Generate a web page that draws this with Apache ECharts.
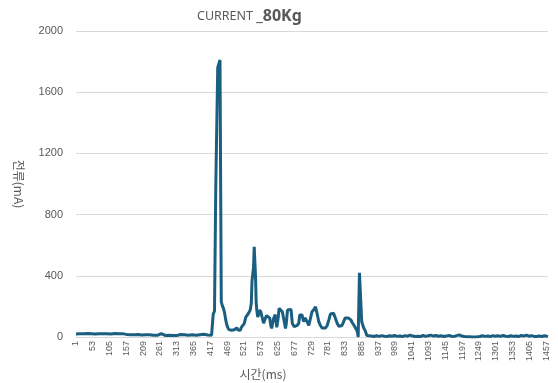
<!DOCTYPE html>
<html>
<head>
<meta charset="utf-8">
<script src="https://cdn.jsdelivr.net/npm/echarts@6/dist/echarts.min.js"></script>
<style>
html,body{margin:0;padding:0;background:#fff;}
#chart{width:558px;height:383px;}
</style>
</head>
<body>
<div id="chart"></div>
<script>
// time sample count (ms index), category labels 1..1463
const sampleCount = 1463;
const sampleIdx = [
1,7,13,19,25,31,37,43,49,55,61,67,73,79,85,91,97,103,109,115,121,127,133,139,145,151,157,163,169,175,181,187,193,199,205,211,217,223,229,235,241,247,253,259,265,271,277,283,289,295,301,307,313,319,325,331,337,343,349,355,361,367,373,379,385,391,397,403,409,415,421,425,
426,430,433,434,438,440,444,447,449,451,455,458,461,465,468,471,475,479,483,487,491,494,499,503,507,510,513,518,522,527,530,533,538,541,544,546,549,551,553,555,557,559,561,564,567,570,574,577,582,587,591,595,601,604,607,610,613,618,623,627,630,635,640,645,650,653,656,661,667,671,677,682,686,691,694,698,701,706,710,713,717,722,727,732,738,743,748,753,758,763,768,774,779,784,789,794,799,805,810,815,820,825,830,835,839,844,849,853,856,861,867,872,875,877,879,884,886,888,892,897,902,
908,916,924,932,940,948,956,964,972,980,988,996,1004,1012,1020,1028,1036,1044,1052,1060,1068,1076,1084,1092,1100,1108,1116,1124,1132,1140,1148,1156,1164,1172,1180,1188,1196,1204,1212,1220,1228,1236,1244,1252,1260,1268,1276,1284,1292,1300,1308,1316,1324,1332,1340,1348,1356,1364,1372,1380,1388,1396,1404,1412,1420,1428,1436,1444,1452,1460,1463
];
// current values (mA) at those indices
const currentMA = [
20,24,22,28,21,25,23,30,22,24,20,26,22,25,21,27,22,24,20,25,23,28,21,24,22,26,17,19,14,18,15,20,16,18,13,17,15,19,14,17,12,16,11,14,22,13,10,14,11,15,10,13,9,12,16,24,14,22,12,10,14,9,12,10,15,11,18,24,13,9,12,14,
150,170,175,990,1000,1760,1790,1810,1800,230,200,185,160,110,80,62,48,52,44,56,47,42,60,45,52,44,63,52,88,130,120,148,165,180,220,360,370,460,590,580,400,230,175,130,150,176,160,165,90,120,140,150,124,80,56,90,120,146,63,120,187,200,165,113,56,100,176,187,180,89,67,80,76,90,144,140,144,100,125,130,100,76,120,165,180,198,150,100,75,59,55,59,75,110,150,145,155,120,90,70,59,75,100,125,134,125,134,110,95,80,67,40,0,0,420,425,100,90,60,40,10,
4,6,3,8,4,9,5,3,8,5,10,4,7,3,9,5,12,6,3,5,3,10,4,8,12,6,10,5,8,3,6,11,5,4,9,14,6,3,2,1,0,0,1,3,8,4,7,3,9,5,8,4,10,5,3,8,4,7,3,10,6,12,5,9,4,3,6,3,8,5,4
];
const yTicks = {min: 0, max: 2000, interval: 400};

const timeLabels = [];
for (let t = 1; t <= sampleCount; t++) timeLabels.push(String(t));
const seriesData = sampleIdx.map((t, k) => [t - 1, currentMA[k]]);

const chart = echarts.init(document.getElementById('chart'));
const grey = '#595959';
chart.setOption({
  animation: false,
  backgroundColor: '#fff',
  title: {
    text: '{a|CURRENT }{b|_80Kg}',
    left: 192, top: 3,
    textStyle: {
      rich: {
        a: {fontSize: 12.5, color: grey, fontWeight: 'normal', fontFamily: 'Noto Sans'},
        b: {fontSize: 16, color: grey, fontWeight: 'bold', fontFamily: 'Noto Sans'}
      }
    }
  },
  grid: {left: 76, right: 10, top: 31, bottom: 46, outerBoundsMode: 'none', containLabel: false},
  xAxis: {
    type: 'category',
    data: timeLabels,
    boundaryGap: false,
    name: '시간(ms)',
    nameLocation: 'middle',
    nameGap: 28,
    nameTextStyle: {color: grey, fontSize: 12, fontFamily: 'Noto Sans CJK KR', padding: [0, 98, 0, 0]},
    axisLine: {lineStyle: {color: '#d9d9d9'}},
    axisTick: {show: false},
    axisLabel: {interval: 51, rotate: 90, fontSize: 9, color: grey, margin: 4, fontFamily: 'Liberation Sans'},
    splitLine: {show: false}
  },
  yAxis: {
    type: 'value',
    min: yTicks.min, max: yTicks.max, interval: yTicks.interval,
    name: '전류(mA)',
    nameLocation: 'middle',
    nameRotate: -90,
    nameGap: 51,
    nameTextStyle: {color: grey, fontSize: 12, fontFamily: 'Noto Sans CJK KR'},
    axisLine: {show: false},
    axisTick: {show: false},
    axisLabel: {fontSize: 11, color: grey, margin: 13, fontFamily: 'Liberation Sans', formatter: v => String(v)},
    splitLine: {lineStyle: {color: '#d9d9d9'}}
  },
  series: [{
    type: 'line',
    data: seriesData,
    symbol: 'none',
    lineStyle: {color: '#1a5e80', width: 3},
    itemStyle: {color: '#1a5e80'}
  }]
});
</script>
</body>
</html>
